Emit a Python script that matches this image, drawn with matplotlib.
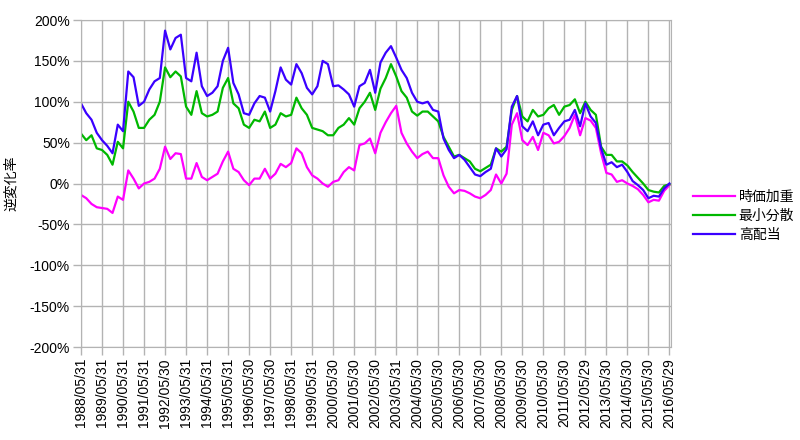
import matplotlib
matplotlib.use('Agg')
import matplotlib.pyplot as plt
import numpy as np

plt.rcParams['font.family'] = ['Liberation Sans', 'Noto Sans CJK JP', 'DejaVu Sans']

# quarterly samples from 1988/05 to 2016/05 (%)
jika = [-14, -18, -25, -29, -30, -31, -36, -16, -20, 16, 6, -6, 0, 2, 6, 18, 45, 30, 37, 36,
        6, 6, 25, 8, 4, 8, 12, 27, 39, 18, 14, 4, -2, 6, 6, 18, 6, 12, 24, 20,
        25, 43, 37, 20, 10, 6, 0, -4, 2, 4, 14, 20, 16, 47, 49, 55, 37, 62, 75, 86,
        95, 62, 49, 39, 31, 36, 39, 31, 31, 10, -4, -12, -8, -9, -12, -16, -18, -14, -8, 11,
        0, 12, 72, 86, 53, 47, 57, 41, 62, 59, 49, 51, 58, 68, 84, 59, 80, 77, 68, 37,
        13, 11, 2, 4, 0, -3, -7, -14, -23, -20, -21, -9, -2]
saisho = [61, 53, 59, 43, 41, 35, 23, 51, 43, 100, 88, 68, 68, 78, 84, 100, 142, 130, 137, 131,
          94, 84, 113, 86, 82, 84, 88, 117, 129, 98, 92, 72, 68, 78, 76, 88, 68, 72, 86, 82,
          84, 105, 92, 84, 68, 66, 64, 59, 59, 68, 72, 80, 72, 92, 100, 111, 90, 116, 129, 146,
          131, 113, 105, 88, 83, 88, 88, 82, 76, 57, 45, 33, 35, 31, 27, 18, 15, 19, 23, 43,
          39, 45, 90, 107, 82, 76, 90, 82, 84, 92, 96, 84, 94, 96, 103, 86, 100, 90, 84, 45,
          35, 35, 27, 27, 22, 14, 7, 0, -8, -10, -11, -3, -1]
kohaito = [98, 86, 78, 62, 53, 46, 37, 72, 64, 137, 130, 95, 100, 115, 125, 129, 187, 164, 178, 182,
           129, 125, 160, 119, 107, 111, 119, 150, 166, 123, 109, 86, 84, 98, 107, 105, 88, 113, 142, 127,
           121, 146, 135, 117, 109, 119, 150, 146, 119, 120, 115, 109, 94, 119, 123, 139, 111, 148, 160, 168,
           154, 139, 129, 111, 100, 98, 100, 90, 88, 55, 41, 31, 35, 29, 20, 11, 9, 14, 18, 43,
           33, 42, 94, 107, 70, 64, 76, 59, 72, 74, 59, 68, 76, 78, 90, 70, 98, 82, 74, 43,
           23, 26, 20, 23, 14, 3, -2, -8, -18, -15, -16, -6, 0]

tick_labels = ['1988/05/31', '1989/05/31', '1990/05/31', '1991/05/31', '1992/05/30',
               '1993/05/31', '1994/05/31', '1995/05/31', '1996/05/30', '1997/05/30',
               '1998/05/31', '1999/05/31', '2000/05/30', '2001/05/30', '2002/05/30',
               '2003/05/31', '2004/05/30', '2005/05/30', '2006/05/30', '2007/05/30',
               '2008/05/30', '2009/05/30', '2010/05/30', '2011/05/30', '2012/05/29',
               '2013/05/30', '2014/05/30', '2015/05/30', '2016/05/29']

x = np.arange(len(jika))

fig = plt.figure(figsize=(8, 4.4), dpi=100)
ax = fig.add_axes([81 / 800, 1 - 347 / 440, 590 / 800, 327 / 440])

ax.plot(x, jika, color='#ff00ff', lw=1.6, label='時価加重')
ax.plot(x, saisho, color='#00b800', lw=1.6, label='最小分散')
ax.plot(x, kohaito, color='#3a00ff', lw=1.6, label='高配当')

ax.set_xlim(0, 112.3)
ax.set_ylim(-200, 200)
ax.set_xticks(np.arange(0, len(jika), 4))
ax.set_xticklabels(tick_labels, rotation=90, fontsize=10)
ax.set_yticks(np.arange(-200, 201, 50))
ax.set_yticklabels(['%d%%' % v for v in range(-200, 201, 50)], fontsize=10)
ax.grid(True, color='#b3b3b3', lw=1)
ax.set_axisbelow(True)
ax.tick_params(color='#b3b3b3', length=6, width=1, pad=2)
for s in ax.spines.values():
    s.set_color('#b3b3b3')

ax.set_ylabel('逆変化率', fontsize=10, labelpad=8)

fig.legend(loc='center left', bbox_to_anchor=(686 / 800, 1 - 216 / 440), frameon=False,
           fontsize=10, handlelength=3.0, handletextpad=0.3, labelspacing=0.35, borderpad=0)

fig.savefig('out.png', dpi=100)
